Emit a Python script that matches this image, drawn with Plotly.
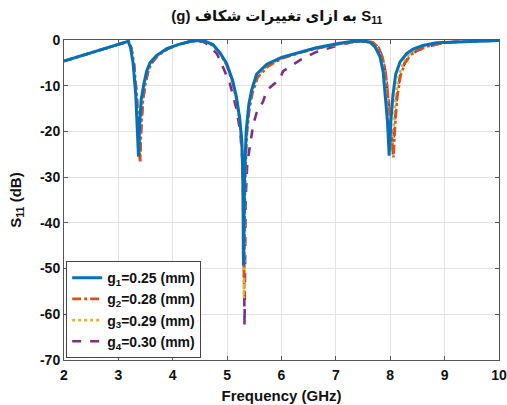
import plotly.graph_objects as go

# ---- data ----
f_g1 = [2.0, 2.3, 2.6, 2.9, 3.1, 3.18, 3.22, 3.27, 3.32, 3.35, 3.37, 3.39, 3.42, 3.47, 3.52, 3.58, 3.7, 3.89,
        4.1, 4.3, 4.45, 4.6, 4.74, 4.87, 4.99, 5.1, 5.17, 5.23, 5.27, 5.29, 5.30, 5.32, 5.35, 5.40, 5.45, 5.54,
        5.73, 6.0, 6.34, 6.64, 7.07, 7.3, 7.5, 7.63, 7.72, 7.81, 7.87, 7.92, 7.95, 7.98, 8.01, 8.05, 8.1, 8.18,
        8.3, 8.42, 8.6, 8.85, 9.2, 9.6, 10.0]
s_g1 = [-4.6, -3.5, -2.4, -1.3, -0.5, -0.3, -1.5, -5.0, -12.0, -19.5, -25.5, -18.5, -13.0, -9.5, -6.8, -5.0, -3.4, -1.9,
        -1.0, -0.4, -0.1, -0.3, -1.0, -2.8, -5.1, -8.8, -12.4, -17.0, -22.0, -30.0, -49.3, -30.0, -20.0, -14.0, -11.0, -7.5,
        -5.3, -3.8, -2.6, -1.7, -0.7, -0.3, -0.2, -0.5, -1.5, -3.6, -7.0, -13.0, -18.0, -25.3, -18.0, -12.0, -7.5, -4.8,
        -3.0, -2.0, -1.2, -0.6, -0.4, -0.2, -0.1]

f_g2 = [2.0, 2.3, 2.6, 2.9, 3.1, 3.19, 3.24, 3.29, 3.34, 3.37, 3.40, 3.42, 3.45, 3.49, 3.54, 3.6, 3.72, 3.9,
        4.1, 4.3, 4.47, 4.6, 4.74, 4.87, 4.99, 5.1, 5.17, 5.23, 5.27, 5.29, 5.31, 5.33, 5.36, 5.41, 5.47, 5.56,
        5.75, 6.0, 6.34, 6.64, 7.07, 7.3, 7.5, 7.68, 7.78, 7.86, 7.92, 7.97, 8.01, 8.06, 8.09, 8.13, 8.19, 8.27,
        8.38, 8.5, 8.68, 8.9, 9.2, 9.6, 10.0]
s_g2 = [-4.6, -3.5, -2.4, -1.3, -0.5, -0.3, -1.8, -5.5, -12.5, -20.0, -26.5, -19.0, -13.5, -10.0, -7.2, -5.2, -3.5, -2.0,
        -1.0, -0.4, -0.1, -0.4, -1.2, -3.0, -5.5, -9.2, -13.0, -17.5, -22.5, -31.0, -52.0, -31.0, -21.0, -15.0, -11.5, -8.2,
        -5.8, -4.1, -2.8, -1.9, -0.8, -0.4, -0.2, -0.5, -1.6, -3.8, -7.5, -13.5, -18.5, -25.7, -18.5, -12.4, -7.8, -5.1,
        -3.2, -2.3, -1.4, -0.8, -0.4, -0.2, -0.1]

f_g3 = [2.0, 2.3, 2.6, 2.9, 3.1, 3.19, 3.23, 3.28, 3.33, 3.36, 3.39, 3.41, 3.44, 3.48, 3.53, 3.59, 3.71, 3.9,
        4.1, 4.3, 4.46, 4.6, 4.74, 4.87, 4.99, 5.1, 5.17, 5.23, 5.27, 5.29, 5.31, 5.33, 5.36, 5.41, 5.46, 5.55,
        5.74, 6.0, 6.34, 6.64, 7.07, 7.3, 7.5, 7.66, 7.75, 7.84, 7.9, 7.95, 7.99, 8.03, 8.06, 8.1, 8.16, 8.24,
        8.35, 8.47, 8.65, 8.88, 9.2, 9.6, 10.0]
s_g3 = [-4.6, -3.5, -2.4, -1.3, -0.5, -0.3, -1.6, -5.2, -12.2, -19.7, -26.0, -18.8, -13.2, -9.8, -7.0, -5.1, -3.4, -2.0,
        -1.0, -0.4, -0.1, -0.4, -1.1, -2.9, -5.3, -9.0, -12.8, -17.2, -22.2, -30.5, -56.5, -30.5, -20.5, -14.5, -11.2, -7.9,
        -5.6, -4.0, -2.7, -1.8, -0.8, -0.4, -0.2, -0.5, -1.5, -3.7, -7.2, -13.2, -18.2, -24.5, -18.2, -12.2, -7.6, -5.0,
        -3.1, -2.2, -1.3, -0.7, -0.4, -0.2, -0.1]

f_g4 = [2.0, 2.3, 2.6, 2.9, 3.1, 3.19, 3.24, 3.29, 3.34, 3.37, 3.40, 3.42, 3.45, 3.49, 3.54, 3.6, 3.72, 3.9,
        4.1, 4.3, 4.44, 4.56, 4.62, 4.72, 4.81, 4.87, 4.99, 5.05, 5.17, 5.24, 5.28, 5.30, 5.32, 5.34, 5.37, 5.42,
        5.48, 5.54, 5.66, 5.73, 5.97, 6.03, 6.34, 6.64, 7.07, 7.3, 7.5, 7.68, 7.78, 7.86, 7.92, 7.97, 8.01, 8.05,
        8.08, 8.12, 8.18, 8.26, 8.37, 8.5, 8.68, 8.9, 9.2, 9.6, 10.0]
s_g4 = [-4.6, -3.5, -2.4, -1.3, -0.5, -0.3, -1.8, -5.5, -12.5, -20.0, -26.5, -19.0, -13.5, -10.0, -7.2, -5.2, -3.5, -2.0,
        -1.0, -0.4, -0.2, -0.4, -0.8, -1.9, -3.0, -4.4, -7.6, -9.5, -15.0, -20.0, -26.0, -35.0, -62.5, -35.0, -27.0, -22.6,
        -18.5, -16.0, -13.5, -11.0, -8.5, -6.8, -4.4, -2.6, -1.1, -0.5, -0.3, -0.5, -1.6, -3.8, -7.5, -13.5, -18.5, -25.0,
        -18.5, -12.4, -7.8, -5.1, -3.2, -2.3, -1.4, -0.8, -0.4, -0.2, -0.1]

x_ticks = [2, 3, 4, 5, 6, 7, 8, 9, 10]
y_ticks = [0, -10, -20, -30, -40, -50, -60, -70]

names = ["g<sub>1</sub>=0.25 (mm)", "g<sub>2</sub>=0.28 (mm)",
         "g<sub>3</sub>=0.29 (mm)", "g<sub>4</sub>=0.30 (mm)"]
colors = ["#0072BD", "#D95319", "#EDB120", "#7E2F8E"]
dashes = ["solid", "dashdot", "dot", "dash"]
widths = [3, 2.6, 2.6, 2.6]

series = [(f_g1, s_g1), (f_g2, s_g2), (f_g3, s_g3), (f_g4, s_g4)]

FONT = "Liberation Sans, Arial, DejaVu Sans"

fig = go.Figure()
# draw g4 first so that g1 is on top; legend order reversed back to g1..g4
for i in [3, 2, 1, 0]:
    fx, fy = series[i]
    fig.add_trace(go.Scatter(
        x=fx, y=fy, mode="lines", name=names[i],
        line=dict(color=colors[i], width=widths[i], dash=dashes[i]),
    ))

fig.update_layout(
    width=507, height=405,
    margin=dict(l=64, r=8, t=40, b=45, autoexpand=False),
    paper_bgcolor="white", plot_bgcolor="white",
    hovermode=False,
    title=dict(text="(g) به ازای تغییرات شکاف S<sub>11</sub>",
               x=0.546, xanchor="center", y=0.975, yanchor="top",
               font=dict(family=FONT, size=15, color="#111", weight="bold")),
    legend=dict(x=0.005, y=0.006, xanchor="left", yanchor="bottom",
                traceorder="reversed",
                bgcolor="white", bordercolor="#444", borderwidth=1,
                font=dict(family=FONT, size=14, color="#111", weight="bold"),
                itemwidth=30, tracegroupgap=0),
    showlegend=True,
)
fig.update_xaxes(
    range=[2, 10], tickvals=x_ticks, ticktext=[str(v) for v in x_ticks],
    automargin=False,
    showgrid=True, gridcolor="#e3e3e3", gridwidth=1, zeroline=False,
    showline=True, linecolor="#555", linewidth=1, mirror="ticks",
    ticks="inside", ticklen=4, tickcolor="#555", ticklabelstandoff=2,
    tickfont=dict(family=FONT, size=14, color="#111", weight="bold"),
    title=dict(text="Frequency (GHz)", standoff=8,
               font=dict(family=FONT, size=15, color="#111", weight="bold")),
)
fig.update_yaxes(
    range=[-70, 0], tickvals=y_ticks, ticktext=[str(v) for v in y_ticks],
    automargin=False,
    showgrid=True, gridcolor="#e3e3e3", gridwidth=1, zeroline=False,
    showline=True, linecolor="#555", linewidth=1, mirror="ticks",
    ticks="inside", ticklen=4, tickcolor="#555",
    tickfont=dict(family=FONT, size=14, color="#111", weight="bold"),
    title=dict(text="S<sub>11</sub> (dB)", standoff=14,
               font=dict(family=FONT, size=15, color="#111", weight="bold")),
)

# remove the default page margin so the 507x405 figure fills the window exactly
fig.write_html("out.html", config={"displayModeBar": False},
               post_script="document.body.style.margin='0';document.body.style.overflow='hidden';")
